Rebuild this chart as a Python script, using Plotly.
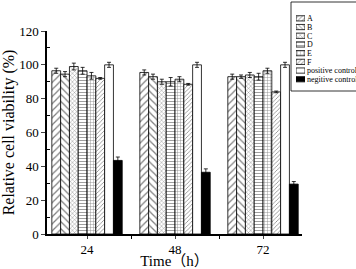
import plotly.graph_objects as go

times = ["24", "48", "72"]
series_names = ["A", "B", "C", "D", "E", "F", "positive control", "negitive control"]
A = [96.5, 95.5, 93.0]
B = [94.5, 93.0, 93.0]
C = [99.0, 90.0, 94.0]
D = [96.5, 90.0, 93.0]
E = [93.5, 91.5, 96.5]
F = [92.0, 88.5, 84.0]
POS = [100.0, 100.0, 100.0]
NEG = [43.5, 36.5, 29.5]
A_err = [1.5, 1.5, 1.5]
B_err = [1.5, 1.5, 1.0]
C_err = [2.0, 1.5, 1.5]
D_err = [2.0, 2.5, 2.0]
E_err = [2.0, 1.5, 1.5]
F_err = [0.5, 0.5, 0.5]
POS_err = [1.5, 1.5, 1.5]
NEG_err = [2.0, 2.0, 1.5]

values = [A, B, C, D, E, F, POS, NEG]
errors = [A_err, B_err, C_err, D_err, E_err, F_err, POS_err, NEG_err]

shapes_p = ["/", "\\", "x", "-", "+", "/", "", ""]
sizes_p = [5, 5, 3, 3, 3, 3, 5, 5]
fills = ["white"] * 7 + ["black"]

xpos = list(range(len(times)))
SERIF = "Liberation Serif, Times New Roman, Noto Sans CJK SC, serif"

fig = go.Figure()
for name, v, e, sh, sz, fc in zip(series_names, values, errors, shapes_p, sizes_p, fills):
    fig.add_trace(go.Bar(
        x=xpos, y=v, name=name, showlegend=False,
        marker=dict(color=fc, line=dict(color="black", width=0.8),
                    pattern=dict(shape=sh, fgcolor="black", bgcolor=fc, size=sz, solidity=0.25)),
        error_y=dict(type="data", array=e, visible=True, color="black", thickness=0.8, width=2),
    ))

# manual legend swatches on an inset axis
fig.add_trace(go.Bar(
    x=[1] * len(series_names), y=series_names, orientation="h", width=0.6,
    showlegend=False, xaxis="x2", yaxis="y2",
    marker=dict(color=fills, line=dict(color="black", width=0.8),
                pattern=dict(shape=shapes_p, fgcolor="black", bgcolor=fills, size=[3] * 8, solidity=0.3)),
))

W, H = 356, 269
L, B_ = 47, 35
pw = W - L
ph = H - B_
plot_w = 302 - L
plot_h = 234 - 31

fig.update_layout(
    width=W, height=H,
    margin=dict(l=L, r=0, t=0, b=B_, autoexpand=False),
    paper_bgcolor="white", plot_bgcolor="white",
    barmode="group", bargap=0.2, bargroupgap=0,
    font=dict(family=SERIF, color="black", size=13),
    showlegend=False,
    xaxis=dict(
        domain=[0, plot_w / pw], range=[-0.455, 2.443], automargin=False,
        tickvals=xpos, ticktext=times, ticks="outside", ticklen=3, tickwidth=1,
        showline=True, linecolor="black", linewidth=1.5, showgrid=False, zeroline=False,
        minor=dict(tickvals=[0.5, 1.5], ticks="outside", ticklen=3, tickwidth=1, tickcolor="black", showgrid=False),
        tickfont=dict(size=13, family=SERIF, color="black"),
        title=dict(text="Time（h）", font=dict(size=15, family=SERIF, color="black"), standoff=3),
    ),
    yaxis=dict(
        domain=[0, plot_h / ph], range=[0, 120], automargin=False,
        tickvals=[0, 20, 40, 60, 80, 100, 120], ticks="outside", ticklen=4, tickwidth=1,
        showline=True, linecolor="black", linewidth=1.5, showgrid=False, zeroline=False,
        minor=dict(tickvals=[10, 30, 50, 70, 90, 110], ticks="inside", ticklen=3, tickwidth=1, tickcolor="black", showgrid=False),
        tickfont=dict(size=13, family=SERIF, color="black"),
        title=dict(text="Relative cell viability (%)", font=dict(size=16, family=SERIF, color="black"), standoff=3),
    ),
    xaxis2=dict(domain=[(296 - L) / pw, (305 - L) / pw], range=[0, 1], visible=False, anchor="y2", automargin=False),
    yaxis2=dict(domain=[(ph - 83.6) / ph, (ph - 14) / ph], autorange="reversed", anchor="x2", automargin=False,
                side="right", showline=False, ticks="", showgrid=False, zeroline=False,
                tickmode="array", tickvals=series_names, ticktext=series_names,
                tickfont=dict(size=8, family=SERIF, color="black"), ticklabelstandoff=1),
    shapes=[dict(type="rect", xref="paper", yref="paper",
                 x0=(291 - L) / pw, x1=1.02, y0=(ph - 91) / ph, y1=(ph - 2) / ph,
                 line=dict(color="black", width=0.8), fillcolor="rgba(0,0,0,0)", layer="below")],
)

fig.write_html("out.html", config={"displayModeBar": False},
               post_script="document.body.style.margin='0px';document.body.style.overflow='hidden';")
